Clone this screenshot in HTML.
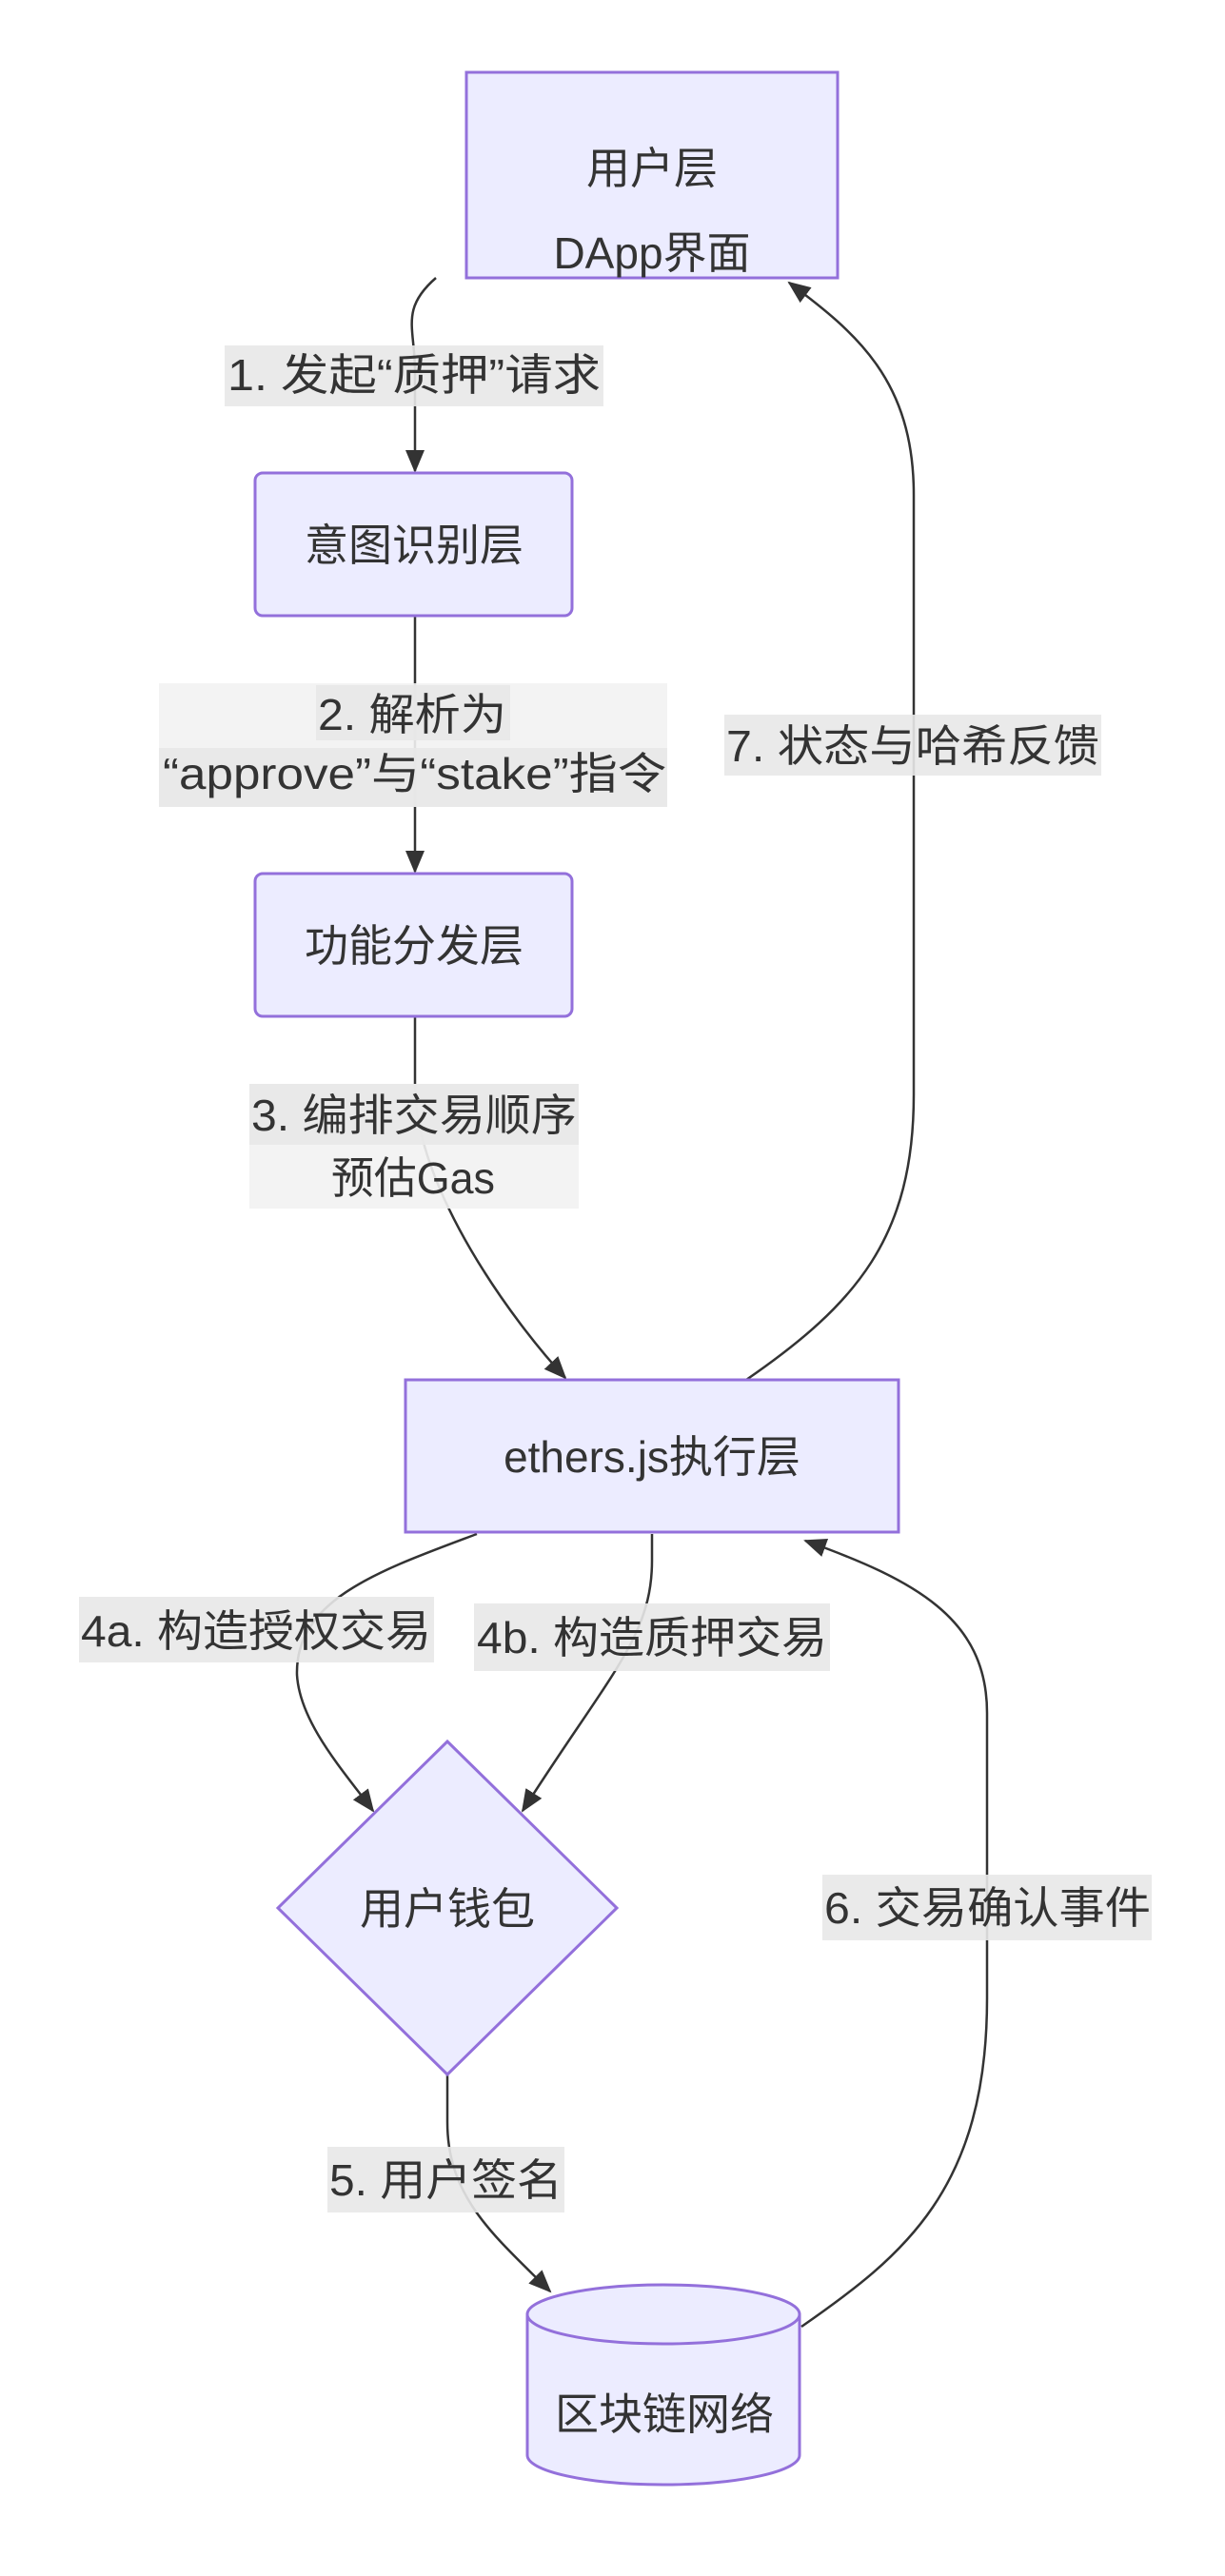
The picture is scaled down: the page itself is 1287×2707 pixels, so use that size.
<!DOCTYPE html>
<html><head><meta charset="utf-8"><style>
html,body{margin:0;padding:0;background:#fff;}
svg{display:block;}
text{font-family:"Liberation Sans","Noto Sans CJK SC",sans-serif;font-size:46px;fill:#333;}
</style></head><body>
<svg width="1287" height="2707" viewBox="0 0 1287 2707" xmlns="http://www.w3.org/2000/svg">
<defs>
<marker id="ah" markerWidth="24" markerHeight="20" refX="22" refY="10" orient="auto" markerUnits="userSpaceOnUse">
<path d="M0,0 L24,10 L0,20 z" fill="#333"/>
</marker>
</defs>
<!-- edges -->
<g fill="none" stroke="#333" stroke-width="2.5">
<path d="M458,292 C420,325 436,345 436,390 L436,495" marker-end="url(#ah)"/>
<path d="M436,647 L436,916" marker-end="url(#ah)"/>
<path d="M436,1068 L436,1140 C436,1250 540,1390 594,1448" marker-end="url(#ah)"/>
<path d="M784,1450 C900,1370 960,1300 960,1150 L960,520 C960,400 900,350 829,297" marker-end="url(#ah)"/>
<path d="M501,1612 C400,1650 310,1680 312,1760 C315,1810 360,1860 392,1903" marker-end="url(#ah)"/>
<path d="M685,1612 L685,1640 C685,1720 640,1760 549,1903" marker-end="url(#ah)"/>
<path d="M470,2180 L470,2230 C470,2310 520,2350 578,2408" marker-end="url(#ah)"/>
<path d="M842,2445 C950,2370 1037,2300 1037,2100 L1037,1800 C1037,1700 960,1660 846,1619" marker-end="url(#ah)"/>
</g>
<!-- nodes -->
<g fill="#ECECFF" stroke="#9370DB" stroke-width="3">
<rect x="490" y="76" width="390" height="216"/>
<rect x="268" y="497" width="333" height="150" rx="8"/>
<rect x="268" y="918" width="333" height="150" rx="8"/>
<rect x="426" y="1450" width="518" height="160"/>
<path d="M470,1830 L648,2005 L470,2180 L292,2005 z"/>
<path d="M554,2432 a143,31 0 0,0 286,0 a143,31 0 0,0 -286,0 L554,2580 a143,31 0 0,0 286,0 L840,2432"/>
</g>
<!-- node text -->
<text x="685" y="193" text-anchor="middle">用户层</text>
<text x="685" y="282" text-anchor="middle">DApp界面</text>
<text x="435" y="589" text-anchor="middle">意图识别层</text>
<text x="435" y="1010" text-anchor="middle">功能分发层</text>
<text x="685" y="1547" text-anchor="middle">ethers.js执行层</text>
<text x="470" y="2022" text-anchor="middle">用户钱包</text>
<text x="698" y="2553" text-anchor="middle">区块链网络</text>
<!-- edge labels -->
<g>
<rect x="236" y="363" width="398" height="64" fill="#e8e8e8" opacity="0.9"/>
<rect x="167" y="718" width="534" height="130" fill="#f2f2f2" opacity="0.9"/>
<rect x="332" y="720" width="204" height="58" fill="#e8e8e8" opacity="0.9"/>
<rect x="167" y="786" width="534" height="62" fill="#e8e8e8" opacity="0.9"/>
<rect x="761" y="751" width="396" height="64" fill="#e8e8e8" opacity="0.9"/>
<rect x="262" y="1139" width="346" height="131" fill="#f2f2f2" opacity="0.9"/>
<rect x="262" y="1139" width="346" height="64" fill="#e8e8e8" opacity="0.9"/>
<rect x="83" y="1678" width="373" height="69" fill="#e8e8e8" opacity="0.9"/>
<rect x="498" y="1685" width="374" height="71" fill="#e8e8e8" opacity="0.9"/>
<rect x="344" y="2256" width="249" height="69" fill="#e8e8e8" opacity="0.9"/>
<rect x="864" y="1970" width="346" height="69" fill="#e8e8e8" opacity="0.9"/>
</g>
<text x="239" y="410" textLength="392" lengthAdjust="spacingAndGlyphs">1. 发起“质押”请求</text>
<text x="334" y="767" textLength="198" lengthAdjust="spacingAndGlyphs">2. 解析为</text>
<text x="171" y="829" textLength="529" lengthAdjust="spacingAndGlyphs">“approve”与“stake”指令</text>
<text x="763" y="800" textLength="392" lengthAdjust="spacingAndGlyphs">7. 状态与哈希反馈</text>
<text x="264" y="1188" textLength="342" lengthAdjust="spacingAndGlyphs">3. 编排交易顺序</text>
<text x="348" y="1254" textLength="172" lengthAdjust="spacingAndGlyphs">预估Gas</text>
<text x="85" y="1730" textLength="368" lengthAdjust="spacingAndGlyphs">4a. 构造授权交易</text>
<text x="501" y="1737" textLength="368" lengthAdjust="spacingAndGlyphs">4b. 构造质押交易</text>
<text x="346" y="2307" textLength="245" lengthAdjust="spacingAndGlyphs">5. 用户签名</text>
<text x="866" y="2021" textLength="343" lengthAdjust="spacingAndGlyphs">6. 交易确认事件</text>
</svg>
</body></html>
